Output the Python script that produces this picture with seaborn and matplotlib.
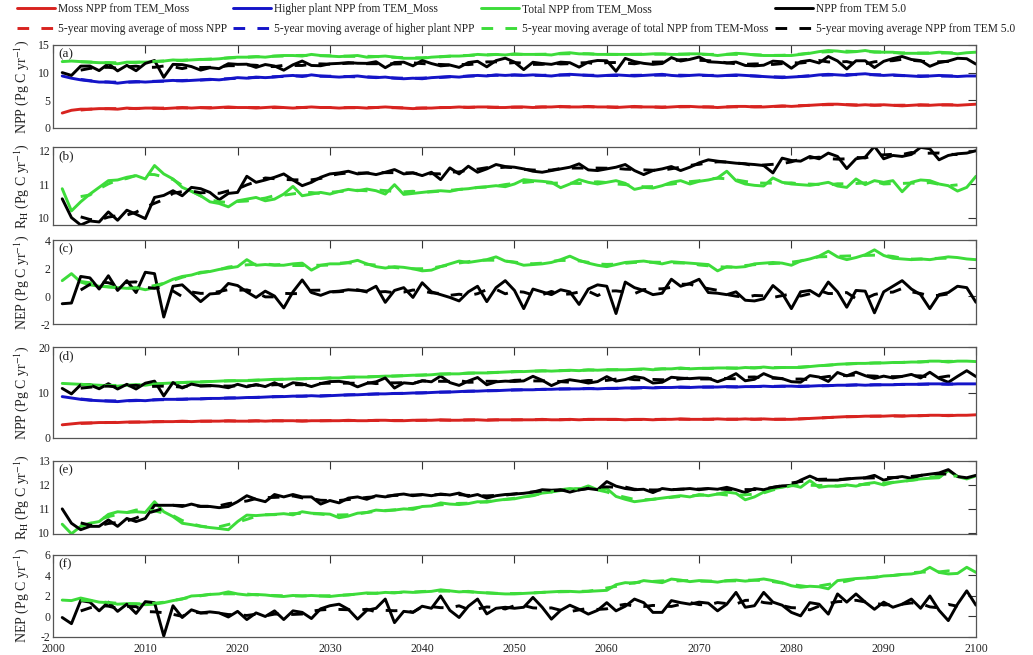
import numpy as np
import pandas as pd
import matplotlib
matplotlib.use("Agg")
import matplotlib.pyplot as plt
from matplotlib.lines import Line2D
import seaborn as sns

years = np.arange(2001, 2101)

# ---- Scenario 1 ----------------------------------------------------------
moss_npp_1 = [
    2.7, 3.2, 3.4, 3.4, 3.5, 3.5, 3.4, 3.6, 3.5, 3.6,
    3.6, 3.5, 3.6, 3.7, 3.6, 3.7, 3.6, 3.7, 3.8, 3.7,
    3.7, 3.6, 3.7, 3.8, 3.7, 3.6, 3.7, 3.8, 3.7, 3.7,
    3.6, 3.7, 3.7, 3.6, 3.7, 3.8, 3.7, 3.6, 3.5, 3.6,
    3.6, 3.7, 3.7, 3.8, 3.7, 3.8, 3.8, 3.7, 3.7, 3.8,
    3.8, 3.7, 3.8, 3.8, 3.9, 3.8, 3.8, 3.9, 3.8, 3.8,
    3.7, 3.8, 3.9, 3.8, 3.8, 3.7, 3.8, 3.9, 3.9, 3.8,
    3.8, 3.7, 3.8, 3.9, 3.9, 3.8, 3.8, 3.9, 4.0, 3.9,
    4.0, 4.1, 4.2, 4.3, 4.3, 4.2, 4.1, 4.2, 4.1, 4.2,
    4.1, 4.0, 4.1, 4.2, 4.1, 4.2, 4.2, 4.1, 4.2, 4.3]
higher_npp_1 = [
    9.4, 9.0, 8.7, 8.5, 8.3, 8.3, 8.1, 8.3, 8.4, 8.3,
    8.4, 8.5, 8.6, 8.5, 8.6, 8.7, 8.8, 8.7, 8.9, 9.1,
    9.0, 9.2, 9.1, 9.2, 9.4, 9.5, 9.3, 9.6, 9.4, 9.3,
    9.2, 9.3, 9.4, 9.2, 9.1, 9.2, 9.0, 8.9, 9.0, 8.9,
    9.1, 9.2, 9.3, 9.2, 9.4, 9.5, 9.4, 9.6, 9.5, 9.6,
    9.5, 9.6, 9.5, 9.4, 9.6, 9.7, 9.6, 9.5, 9.4, 9.5,
    9.6, 9.5, 9.4, 9.5, 9.6, 9.7, 9.5, 9.4, 9.5, 9.6,
    9.5, 9.4, 9.5, 9.6, 9.5, 9.4, 9.3, 9.2, 9.1, 9.2,
    9.3, 9.4, 9.6, 9.7, 9.6, 9.5, 9.7, 9.8, 9.6, 9.5,
    9.6, 9.5, 9.4, 9.3, 9.4, 9.5, 9.4, 9.3, 9.4, 9.4]
total_npp_1 = [
    12.0, 12.1, 12.0, 11.9, 11.8, 11.8, 11.6, 11.9, 11.9, 11.9,
    12.0, 12.1, 12.3, 12.2, 12.3, 12.4, 12.4, 12.5, 12.7, 12.8,
    12.8, 12.9, 12.8, 13.0, 13.1, 13.1, 13.0, 13.3, 13.1, 13.0,
    12.9, 13.0, 13.1, 12.8, 12.9, 13.0, 12.8, 12.6, 12.6, 12.6,
    12.8, 12.9, 13.0, 13.0, 13.1, 13.3, 13.2, 13.3, 13.2, 13.4,
    13.3, 13.3, 13.3, 13.2, 13.5, 13.6, 13.4, 13.4, 13.3, 13.3,
    13.3, 13.3, 13.3, 13.3, 13.4, 13.4, 13.3, 13.3, 13.4, 13.4,
    13.3, 13.1, 13.3, 13.5, 13.4, 13.2, 13.1, 13.1, 13.1, 13.1,
    13.3, 13.5, 13.8, 14.0, 13.9, 13.7, 13.8, 14.0, 13.7, 13.7,
    13.7, 13.5, 13.5, 13.5, 13.5, 13.7, 13.6, 13.4, 13.6, 13.7]
tem_npp_1 = [
    10.01, 9.50, 11.18, 11.20, 10.37, 11.62, 10.32, 11.32, 10.35, 11.67,
    12.20, 9.16, 11.50, 11.45, 11.10, 10.46, 10.90, 10.73, 11.62, 11.50,
    11.53, 10.95, 11.47, 11.20, 10.45, 11.42, 12.10, 11.30, 11.25, 11.60,
    11.68, 11.83, 11.70, 11.68, 11.98, 10.90, 11.83, 11.90, 11.23, 12.20,
    11.65, 11.23, 11.38, 10.95, 11.83, 12.05, 11.05, 12.18, 12.62, 11.90,
    10.55, 11.88, 11.65, 11.50, 11.90, 11.80, 11.00, 11.92, 12.20, 12.15,
    10.25, 12.58, 12.00, 11.68, 11.50, 11.65, 12.72, 12.10, 12.40, 12.83,
    11.97, 11.88, 11.75, 11.92, 11.30, 11.23, 11.35, 12.08, 11.97, 10.80,
    11.98, 12.22, 11.75, 12.92, 12.12, 10.66, 12.15, 12.15, 10.92, 12.05,
    12.55, 12.92, 12.38, 12.19, 11.15, 11.82, 12.10, 12.60, 12.52, 11.54]
moss_rh_1 = [
    10.86, 10.20, 10.47, 10.70, 10.90, 11.10, 11.12, 11.20, 11.25, 11.15,
    11.55, 11.30, 11.15, 10.90, 10.78, 10.65, 10.47, 10.42, 10.32, 10.50,
    10.55, 10.60, 10.50, 10.55, 10.70, 10.93, 10.65, 10.70, 10.75, 10.70,
    10.78, 10.84, 10.80, 10.85, 10.80, 10.70, 10.98, 10.69, 10.72, 10.75,
    10.78, 10.80, 10.78, 10.84, 10.86, 10.90, 10.92, 10.95, 10.92, 11.00,
    11.13, 11.10, 11.08, 11.05, 10.89, 11.00, 11.13, 11.05, 11.00, 11.05,
    11.10, 11.02, 10.84, 10.90, 10.88, 10.95, 11.05, 11.10, 11.00, 11.08,
    11.12, 11.18, 11.38, 11.10, 11.00, 10.96, 10.94, 11.18, 11.05, 11.00,
    10.98, 10.96, 11.00, 11.05, 10.94, 10.90, 11.15, 10.98, 11.10, 11.05,
    11.10, 10.77, 11.05, 11.12, 11.10, 11.00, 10.95, 10.79, 10.90, 11.23]
tem_rh_1 = [
    10.56, 10.00, 9.78, 9.90, 9.87, 10.17, 9.92, 10.22, 10.10, 9.97,
    10.60, 10.66, 10.80, 10.65, 10.90, 10.86, 10.75, 10.53, 10.72, 10.75,
    11.23, 11.05, 11.12, 11.20, 11.30, 11.12, 10.95, 11.05, 11.20, 11.30,
    11.33, 11.38, 11.30, 11.33, 11.28, 11.35, 11.43, 11.30, 11.33, 11.25,
    11.35, 11.13, 11.48, 11.30, 11.53, 11.35, 11.45, 11.58, 11.52, 11.50,
    11.45, 11.38, 11.35, 11.40, 11.45, 11.50, 11.60, 11.42, 11.40, 11.45,
    11.50, 11.58, 11.40, 11.28, 11.40, 11.45, 11.52, 11.40, 11.50, 11.63,
    11.72, 11.68, 11.65, 11.62, 11.60, 11.58, 11.55, 11.33, 11.77, 11.70,
    11.68, 11.82, 11.75, 11.92, 11.82, 11.46, 11.75, 11.80, 12.12, 11.75,
    11.85, 11.82, 11.88, 12.09, 12.05, 11.72, 11.85, 11.90, 11.92, 11.99]
moss_nep_1 = [
    1.10, 1.60, 1.00, 0.80, 0.70, 0.65, 0.60, 0.55, 0.60, 0.45,
    0.60, 0.90, 1.20, 1.40, 1.50, 1.70, 1.75, 1.90, 2.00, 2.10,
    2.60, 2.20, 2.25, 2.20, 2.20, 2.30, 2.35, 1.85, 2.20, 2.30,
    2.30, 2.40, 2.55, 2.30, 2.10, 2.00, 2.10, 2.05, 1.95, 1.80,
    1.85, 2.10, 2.30, 2.50, 2.40, 2.50, 2.60, 2.80, 2.50, 2.40,
    2.20, 2.25, 2.30, 2.40, 2.60, 2.85, 2.55, 2.35, 2.20, 2.10,
    2.25, 2.40, 2.45, 2.50, 2.40, 2.30, 2.45, 2.40, 2.35, 2.30,
    2.25, 1.80, 2.10, 2.05, 2.10, 2.30, 2.35, 2.40, 2.35, 2.20,
    2.50, 2.65, 2.85, 3.20, 2.80, 2.60, 2.75, 2.95, 3.30, 2.90,
    2.70, 2.65, 2.60, 2.65, 2.60, 2.70, 2.80, 2.75, 2.65, 2.60]
tem_nep_1 = [
    -0.55, -0.50, 1.40, 1.30, 0.50, 1.45, 0.40, 1.10, 0.25, 1.70,
    1.60, -1.50, 0.70, 0.80, 0.20, -0.40, 0.15, 0.20, 0.90, 0.75,
    0.30, -0.10, 0.35, 0.00, -0.85, 0.30, 1.15, 0.25, 0.05, 0.30,
    0.35, 0.45, 0.40, 0.35, 0.70, -0.45, 0.40, 0.60, -0.10, 0.95,
    0.30, 0.10, -0.10, -0.35, 0.30, 0.70, -0.40, 0.60, 1.10, 0.40,
    -0.90, 0.50, 0.30, 0.10, 0.45, 0.30, -0.60, 0.50, 0.80, 0.70,
    -1.25, 1.00, 0.60, 0.40, 0.10, 0.20, 1.20, 0.70, 0.90, 1.20,
    0.25, 0.20, 0.10, 0.30, -0.30, -0.35, -0.20, 0.75, 0.20, -0.90,
    0.30, 0.40, 0.00, 1.00, 0.30, -0.80, 0.40, 0.35, -1.20, 0.30,
    0.70, 1.10, 0.50, 0.10, -0.90, 0.10, 0.25, 0.70, 0.60, -0.45]

# ---- Scenario 2 ----------------------------------------------------------
moss_npp_2 = [
    2.9, 3.1, 3.3, 3.3, 3.4, 3.4, 3.4, 3.5, 3.5, 3.5,
    3.6, 3.6, 3.6, 3.7, 3.6, 3.7, 3.7, 3.7, 3.8, 3.7,
    3.7, 3.8, 3.7, 3.8, 3.8, 3.8, 3.7, 3.8, 3.8, 3.8,
    3.8, 3.9, 3.8, 3.8, 3.9, 3.9, 3.8, 3.8, 3.9, 3.9,
    3.9, 4.0, 3.9, 3.9, 4.0, 4.0, 3.9, 4.0, 4.0, 4.0,
    4.0, 4.0, 4.1, 4.0, 4.0, 4.1, 4.0, 4.1, 4.1, 4.1,
    4.1, 4.0, 4.1, 4.1, 4.0, 4.1, 4.1, 4.2, 4.1, 4.1,
    4.1, 4.2, 4.1, 4.1, 4.2, 4.1, 4.2, 4.1, 4.1, 4.1,
    4.2, 4.3, 4.4, 4.5, 4.6, 4.7, 4.7, 4.8, 4.8, 4.8,
    4.9, 4.8, 4.9, 4.9, 5.0, 5.0, 4.9, 5.0, 5.0, 5.1]
higher_npp_2 = [
    9.1, 8.8, 8.5, 8.3, 8.2, 8.1, 8.0, 8.2, 8.3, 8.2,
    8.4, 8.5, 8.5, 8.5, 8.6, 8.6, 8.7, 8.7, 8.8, 8.8,
    8.9, 8.9, 9.0, 9.1, 9.1, 9.2, 9.2, 9.3, 9.2, 9.3,
    9.4, 9.5, 9.5, 9.6, 9.7, 9.7, 9.8, 9.8, 9.9, 9.9,
    10.0, 10.1, 10.1, 10.2, 10.3, 10.3, 10.4, 10.4, 10.5, 10.6,
    10.6, 10.6, 10.7, 10.7, 10.8, 10.8, 10.8, 10.9, 10.8, 10.9,
    10.9, 11.0, 11.0, 11.1, 11.0, 11.1, 11.1, 11.2, 11.1, 11.2,
    11.2, 11.2, 11.3, 11.2, 11.3, 11.3, 11.4, 11.3, 11.4, 11.4,
    11.3, 11.4, 11.5, 11.5, 11.6, 11.6, 11.7, 11.6, 11.7, 11.7,
    11.7, 11.8, 11.8, 11.8, 11.9, 11.9, 11.8, 11.9, 11.9, 11.9]
total_npp_2 = [
    12.0, 11.9, 11.8, 11.7, 11.6, 11.5, 11.4, 11.6, 11.7, 11.6,
    11.9, 12.0, 12.1, 12.2, 12.3, 12.3, 12.4, 12.5, 12.6, 12.6,
    12.6, 12.7, 12.8, 12.9, 12.9, 13.0, 13.0, 13.1, 13.1, 13.2,
    13.2, 13.4, 13.4, 13.4, 13.5, 13.6, 13.6, 13.7, 13.8, 13.8,
    13.9, 14.1, 14.1, 14.1, 14.3, 14.3, 14.3, 14.4, 14.5, 14.6,
    14.6, 14.7, 14.8, 14.7, 14.8, 14.9, 14.8, 15.0, 14.9, 15.0,
    15.0, 15.0, 15.1, 15.2, 15.0, 15.2, 15.2, 15.4, 15.2, 15.3,
    15.3, 15.4, 15.4, 15.3, 15.5, 15.4, 15.6, 15.4, 15.5, 15.5,
    15.5, 15.7, 15.9, 16.0, 16.2, 16.3, 16.4, 16.4, 16.5, 16.5,
    16.6, 16.6, 16.7, 16.7, 16.9, 16.9, 16.7, 16.9, 16.9, 16.8]
tem_npp_2 = [
    10.90, 9.70, 11.68, 11.67, 10.82, 11.94, 10.77, 11.80, 10.77, 12.05,
    12.50, 9.25, 12.20, 11.00, 11.85, 11.45, 11.55, 11.40, 11.05, 11.80,
    11.25, 11.75, 11.30, 12.15, 11.20, 12.15, 11.90, 11.30, 11.95, 12.40,
    12.45, 12.15, 11.24, 12.00, 12.35, 13.20, 10.98, 12.12, 11.95, 12.60,
    12.35, 13.62, 12.18, 11.56, 12.52, 13.30, 11.70, 12.35, 12.50, 12.42,
    12.55, 13.56, 12.70, 11.52, 12.40, 12.80, 12.50, 12.08, 12.40, 13.49,
    12.50, 12.85, 13.50, 13.17, 12.08, 12.25, 13.35, 13.17, 13.05, 13.20,
    13.15, 12.37, 13.10, 14.15, 12.58, 12.90, 14.15, 13.30, 13.06, 12.38,
    12.26, 13.72, 13.40, 12.43, 14.40, 13.65, 14.48, 13.70, 13.10, 13.60,
    13.20, 13.55, 13.98, 13.20, 14.45, 13.10, 12.24, 13.55, 14.80, 13.50]
moss_rh_2 = [
    10.36, 9.96, 10.27, 10.40, 10.47, 10.77, 10.88, 10.85, 10.88, 10.85,
    11.30, 10.88, 10.68, 10.40, 10.34, 10.27, 10.22, 10.18, 10.13, 10.47,
    10.74, 10.72, 10.75, 10.77, 10.80, 10.75, 10.88, 10.82, 10.80, 10.78,
    10.63, 10.70, 10.82, 10.85, 10.95, 10.92, 10.95, 11.00, 10.98, 11.10,
    11.12, 11.25, 11.20, 11.18, 11.22, 11.30, 11.28, 11.35, 11.40, 11.42,
    11.50, 11.55, 11.66, 11.70, 11.80, 11.85, 11.82, 11.96, 11.80, 11.85,
    11.52, 11.40, 11.30, 11.35, 11.40, 11.45, 11.50, 11.55, 11.50, 11.60,
    11.55, 11.62, 11.70, 11.65, 11.38, 11.50, 11.70, 11.85, 11.90, 12.00,
    11.90, 12.18, 11.90, 11.95, 11.95, 12.00, 11.95, 12.05, 12.10, 12.00,
    12.10, 12.15, 12.20, 12.25, 12.28, 12.30, 12.60, 12.35, 12.25, 12.38]
tem_rh_2 = [
    11.00, 10.40, 10.13, 10.27, 10.27, 10.54, 10.27, 10.60, 10.47, 10.60,
    11.15, 11.15, 11.15, 11.10, 11.20, 11.10, 11.10, 11.05, 11.10, 11.30,
    11.55, 11.40, 11.30, 11.60, 11.50, 11.60, 11.50, 11.50, 11.20, 11.35,
    11.25, 11.45, 11.50, 11.40, 11.55, 11.50, 11.58, 11.62, 11.55, 11.60,
    11.55, 11.62, 11.58, 11.66, 11.52, 11.60, 11.45, 11.55, 11.60, 11.62,
    11.65, 11.70, 11.80, 11.78, 11.80, 11.70, 11.80, 11.85, 11.80, 12.14,
    11.95, 11.85, 11.80, 11.82, 11.68, 11.85, 11.80, 11.82, 11.85, 11.80,
    11.85, 11.82, 11.90, 11.80, 11.68, 11.85, 11.80, 11.90, 11.96, 11.98,
    12.20, 12.37, 12.20, 12.20, 12.20, 12.25, 12.28, 12.30, 12.40, 12.20,
    12.30, 12.35, 12.28, 12.40, 12.45, 12.50, 12.64, 12.35, 12.30, 12.40]
moss_nep_2 = [
    1.60, 1.55, 1.80, 1.60, 1.40, 1.35, 1.20, 1.25, 1.25, 1.15,
    1.20, 1.35, 1.55, 1.70, 2.00, 2.05, 2.15, 2.20, 2.40, 2.20,
    2.10, 2.15, 2.10, 2.00, 1.95, 2.05, 2.00, 2.05, 2.00, 1.95,
    2.05, 2.10, 2.20, 2.30, 2.25, 2.35, 2.30, 2.40, 2.35, 2.40,
    2.45, 2.60, 2.50, 2.40, 2.45, 2.35, 2.30, 2.25, 2.20, 2.20,
    2.25, 2.30, 2.35, 2.40, 2.45, 2.45, 2.40, 2.45, 2.50, 2.55,
    3.10, 3.30, 3.25, 3.50, 3.40, 3.30, 3.65, 3.55, 3.40, 3.50,
    3.45, 3.35, 3.50, 3.55, 3.45, 3.55, 3.66, 3.50, 3.30, 3.00,
    2.85, 2.95, 2.90, 2.70, 3.50, 3.60, 3.70, 3.75, 3.80, 3.95,
    4.00, 4.10, 4.15, 4.30, 4.80, 4.30, 4.15, 4.20, 4.80, 4.30]
tem_nep_2 = [
    -0.10, -0.70, 1.55, 1.40, 0.55, 1.40, 0.50, 1.20, 0.30, 1.45,
    1.35, -1.90, 1.05, -0.10, 0.65, 0.35, 0.45, 0.35, -0.05, 0.50,
    -0.30, 0.35, 0.00, 0.55, -0.30, 0.55, 0.40, -0.20, 0.75, 1.05,
    1.20, 0.70, -0.26, 0.60, 0.80, 1.70, -0.60, 0.50, 0.40, 1.00,
    0.80, 2.00, 0.60, -0.10, 1.00, 1.70, 0.25, 0.80, 0.90, 0.80,
    0.90, 1.86, 0.90, -0.26, 0.60, 1.10, 0.70, 0.23, 0.60, 1.35,
    0.55, 1.00, 1.70, 1.35, 0.40, 0.40, 1.55, 1.35, 1.20, 1.40,
    1.30, 0.55, 1.20, 2.35, 0.90, 1.05, 2.35, 1.40, 1.10, 0.40,
    0.06, 1.35, 1.20, 0.23, 2.20, 1.40, 2.20, 1.40, 0.70, 1.40,
    0.90, 1.20, 1.70, 0.80, 2.00, 0.60, -0.40, 1.20, 2.50, 1.10]

RED, BLUE, GREEN, BLACK = "#d8231f", "#1414c8", "#3ddc3a", "#000000"
LW = 2.1
DASH = (0, (4.0, 4.2))

sns.set_theme(style="white")
plt.rcParams["font.family"] = ["Liberation Serif", "DejaVu Serif"]
plt.rcParams["mathtext.fontset"] = "stix"
plt.rcParams["axes.unicode_minus"] = False

fig = plt.figure(figsize=(10.33, 6.55), dpi=100)

LEFT, WIDTH = 0.0513, 0.8935
panels = [
    # bottom, height, ylim, yticks, letter, ylabel, series
    (0.8046, 0.1267, (0, 15), [0, 5, 10, 15], "(a)", r"NPP (Pg C yr$^{-1}$)",
     [(moss_npp_1, RED), (higher_npp_1, BLUE), (total_npp_1, GREEN), (tem_npp_1, BLACK)]),
    (0.6565, 0.1190, (9.78, 12.1), [10, 11, 12], "(b)", r"R$_{\rm H}$ (Pg C yr$^{-1}$)",
     [(moss_rh_1, GREEN), (tem_rh_1, BLACK)]),
    (0.5053, 0.1282, (-2, 4), [-2, 0, 2, 4], "(c)", r"NEP (Pg C yr$^{-1}$)",
     [(moss_nep_1, GREEN), (tem_nep_1, BLACK)]),
    (0.3313, 0.1389, (0, 20), [0, 10, 20], "(d)", r"NPP (Pg C yr$^{-1}$)",
     [(moss_npp_2, RED), (higher_npp_2, BLUE), (total_npp_2, GREEN), (tem_npp_2, BLACK)]),
    (0.1847, 0.1115, (9.95, 13), [10, 11, 12, 13], "(e)", r"R$_{\rm H}$ (Pg C yr$^{-1}$)",
     [(moss_rh_2, GREEN), (tem_rh_2, BLACK)]),
    (0.0275, 0.1252, (-2, 6), [-2, 0, 2, 4, 6], "(f)", r"NEP (Pg C yr$^{-1}$)",
     [(moss_nep_2, GREEN), (tem_nep_2, BLACK)]),
]

for i, (bottom, height, ylim, yticks, letter, ylabel, series) in enumerate(panels):
    ax = fig.add_axes([LEFT, bottom, WIDTH, height])
    for values, color in series:
        sns.lineplot(x=years, y=values, ax=ax, color=color, lw=LW, zorder=2)
    for values, color in series:
        smooth = pd.Series(values).rolling(5, center=True).mean()
        sns.lineplot(x=years, y=smooth.values, ax=ax, color=color, lw=LW,
                     linestyle=DASH, zorder=3)
    ax.set_xlim(2000, 2100)
    ax.set_ylim(*ylim)
    ax.set_yticks(yticks)
    ax.set_xticks(np.arange(2000, 2101, 10))
    ax.tick_params(direction="in", top=True, right=True, length=6, width=0.8,
                   color="#333333", labelsize=8.5, pad=2, labelcolor="#222222")
    ax.tick_params(axis="x", pad=4.5)
    if i < len(panels) - 1:
        ax.tick_params(labelbottom=False)
    for sp in ax.spines.values():
        sp.set_color("#555555")
        sp.set_linewidth(0.9)
    ax.set_xlabel("")
    ax.set_ylabel(ylabel, fontsize=10, color="#222222")
    ax.yaxis.set_label_coords(-0.024, 0.5)
    ax.text(0.006, 0.96, letter, transform=ax.transAxes, ha="left", va="top",
            fontsize=9.5, color="#222222")
    ax.grid(False)

handles = [
    Line2D([], [], color=RED, lw=LW),
    Line2D([], [], color=RED, lw=LW, linestyle=DASH),
    Line2D([], [], color=BLUE, lw=LW),
    Line2D([], [], color=BLUE, lw=LW, linestyle=DASH),
    Line2D([], [], color=GREEN, lw=LW),
    Line2D([], [], color=GREEN, lw=LW, linestyle=DASH),
    Line2D([], [], color=BLACK, lw=LW),
    Line2D([], [], color=BLACK, lw=LW, linestyle=DASH),
]
labels = [
    "Moss NPP from TEM_Moss",
    "5-year moving average of moss NPP",
    "Higher plant NPP from TEM_Moss",
    "5-year moving average of higher plant NPP",
    "Total NPP from TEM_Moss",
    "5-year moving average of total NPP from TEM-Moss",
    "NPP from TEM 5.0",
    "5-year moving average NPP from TEM 5.0",
]
fig.legend(handles, labels, ncol=4, loc="upper left", bbox_to_anchor=(0.0165, 0.995),
           frameon=False, fontsize=8.3, handlelength=3.3, handletextpad=0.25,
           columnspacing=0.55, labelspacing=0.7, borderaxespad=0.0, borderpad=0.0,
           labelcolor="#222222")

fig.savefig("out.png", dpi=100)
